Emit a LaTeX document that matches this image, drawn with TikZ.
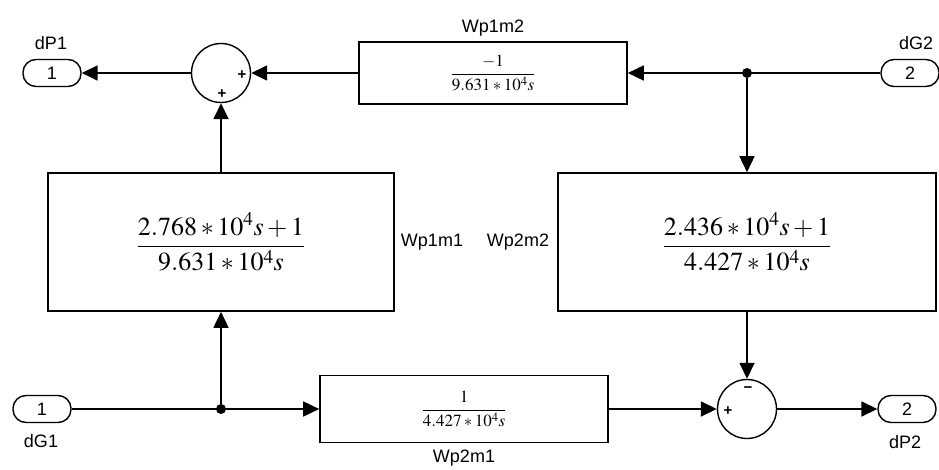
\documentclass[tikz,border=0pt]{standalone}
\usepackage{amsmath}
\usepackage{mathptmx}
\usepackage{fontspec}
\setmainfont{Liberation Serif}
\setsansfont{Liberation Sans}
\usepackage{tikz}
\usetikzlibrary{arrows.meta,calc}
\tikzset{
  wire/.style={line width=1.6pt},
  sig/.style={wire, -{Triangle[length=16pt,width=15pt]}},
  blk/.style={draw, line width=1.6pt, inner sep=0pt},
  port/.style={draw, line width=1.4pt, rounded corners=13pt, minimum width=58pt,
    minimum height=27pt, inner sep=0pt, font=\sffamily\fontsize{18}{20}\selectfont},
  sumnode/.style={draw, circle, line width=1.4pt, minimum size=59pt, inner sep=0pt},
  jdot/.style={circle, fill, minimum size=10pt, inner sep=0pt},
  lbl/.style={font=\sffamily\fontsize{18}{20}\selectfont, inner sep=0pt},
  sgn/.style={font=\sffamily\bfseries\fontsize{15}{16}\selectfont, inner sep=0pt},
  bigtf/.style={font=\fontsize{26}{30}\selectfont},
  smalltf/.style={font=\fontsize{17}{20}\selectfont},
}

\begin{document}
\begin{tikzpicture}[x=1pt,y=-1pt]
  \useasboundingbox (0,0) rectangle (939,470);
  % in/out ports
  \node[port] (dp1) at (52,73) {1};
  \node[port] (dg2) at (910,73) {2};
  \node[port] (dg1) at (42,409) {1};
  \node[port] (dp2) at (907,409) {2};
  \node[lbl] at (51,43) {dP1};
  \node[lbl] at (916,43) {dG2};
  \node[lbl] at (41,441) {dG1};
  \node[lbl] at (905,442) {dP2};
  % sum blocks
  \node[sumnode] (sum1) at (221,73) {};
  \node[sumnode] (sum2) at (747,409) {};
  \node[sgn] at ($(sum1)+(21,2)$) {+};
  \node[sgn] at ($(sum1)+(1,21)$) {+};
  \node[sgn] at ($(sum2)+(1,-19)$) {\textminus};
  \node[sgn] at ($(sum2)+(-19,2)$) {+};
  % transfer functions
  \node[blk, minimum width=268pt, minimum height=62pt, smalltf] (wp1m2) at (493,73)
    {$\dfrac{\boldsymbol{-}1}{9.631*10^4s}$};
  \node[blk, minimum width=346pt, minimum height=138pt, bigtf] (wp1m1) at (221,242)
    {$\dfrac{2.768*10^4s+1}{9.631*10^4s}$};
  \node[blk, minimum width=378pt, minimum height=138pt, bigtf] (wp2m2) at (747,242)
    {$\dfrac{2.436*10^4s+1}{4.427*10^4s}$};
  \node[blk, minimum width=288pt, minimum height=67pt, smalltf] (wp2m1) at (464,409)
    {$\dfrac{1}{4.427*10^4s}$};
  \node[lbl] at (493,28) {Wp1m2};
  \node[lbl] at (432,242) {Wp1m1};
  \node[lbl] at (518,242) {Wp2m2};
  \node[lbl] at (464,458) {Wp2m1};
  % branch points
  \node[jdot] (jtop) at (747,73) {};
  \node[jdot] (jbot) at (221,409) {};
  % signal lines
  \draw[sig] (sum1.west) -- (dp1.east);
  \draw[sig] (wp1m2.west) -- (sum1.east);
  \draw[sig] (dg2.west) -- (wp1m2.east);
  \draw[sig] (jtop) -- (wp2m2.north);
  \draw[sig] (wp1m1.north) -- (sum1.south);
  \draw[sig] (dg1.east) -- (wp2m1.west);
  \draw[sig] (jbot) -- (wp1m1.south);
  \draw[sig] (wp2m1.east) -- (sum2.west);
  \draw[sig] (wp2m2.south) -- (sum2.north);
  \draw[sig] (sum2.east) -- (dp2.west);
\end{tikzpicture}
\end{document}
